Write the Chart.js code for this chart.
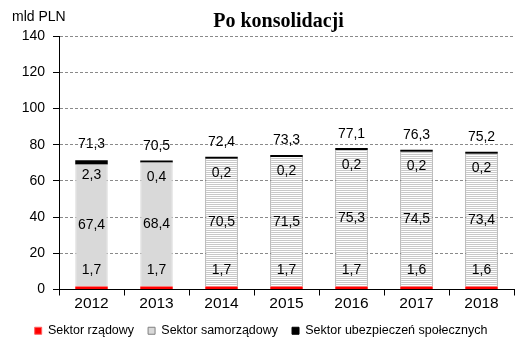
<!DOCTYPE html>
<html>
<head>
<meta charset="utf-8">
<script src="https://cdn.jsdelivr.net/npm/chart.js@4/dist/chart.umd.min.js"></script>
<style>
  body { margin: 0; background: #fff; }
  #wrap { width: 520px; height: 347px; }
</style>
</head>
<body>
<div id="wrap"><canvas id="chart" width="520" height="347"></canvas></div>
<script>
var years = ['2012', '2013', '2014', '2015', '2016', '2017', '2018'];
var rzadowy = [1.7, 1.7, 1.7, 1.7, 1.7, 1.6, 1.6];
var samorzadowy = [67.4, 68.4, 70.5, 71.5, 75.3, 74.5, 73.4];
var ubezpieczen = [2.3, 0.4, 0.2, 0.2, 0.2, 0.2, 0.2];
var totals = [71.3, 70.5, 72.4, 73.3, 77.1, 76.3, 75.2];
var yTicks = [0, 20, 40, 60, 80, 100, 120, 140];

// wzor w poziome paski (od 2014)
function stripes(){
  var c = document.createElement('canvas');
  c.width = 4; c.height = 2;
  var g = c.getContext('2d');
  g.fillStyle = '#ffffff';
  g.fillRect(0, 0, 4, 2);
  g.fillStyle = '#c8c8c8';
  g.fillRect(0, 0, 4, 1);
  return g.createPattern(c, 'repeat');
}
var ctx = document.getElementById('chart').getContext('2d');
var pat = stripes();
var greyFill = years.map(function(y, i){ return i < 2 ? '#d9d9d9' : pat; });
var greyBorder = years.map(function(y, i){ return i < 2 ? '#d9d9d9' : '#8c8c8c'; });

function fmt(v){ return v.toFixed(1).replace('.', ','); }

// etykiety wartosci, tytul i jednostka
var labelsPlugin = {
  id: 'labels',
  afterDatasetsDraw: function(chart){
    var c = chart.ctx;
    var y = chart.scales.y, x = chart.scales.x;
    c.save();
    c.fillStyle = '#000';
    c.textAlign = 'center';
    c.textBaseline = 'middle';
    c.font = '14px "Liberation Sans", Arial, sans-serif';
    years.forEach(function(yr, i){
      var cx = x.getPixelForValue(i);
      var base = y.getPixelForValue(0);
      var top = y.getPixelForValue(rzadowy[i] + samorzadowy[i] + ubezpieczen[i]);
      var mid = y.getPixelForValue(rzadowy[i] + samorzadowy[i] / 2);
      c.fillText(fmt(rzadowy[i]), cx, base - 19);
      c.fillText(fmt(samorzadowy[i]), cx, mid);
      c.fillText(fmt(ubezpieczen[i]), cx, top + 15);
      c.fillText(fmt(totals[i]), cx, top - 16);
    });
    c.font = 'bold 20px "Liberation Serif", "Times New Roman", serif';
    c.fillText('Po konsolidacji', (chart.chartArea.left + chart.chartArea.right) / 2 - 8, 22);
    c.textAlign = 'left';
    c.font = '14px "Liberation Sans", Arial, sans-serif';
    c.fillText('mld PLN', 12, 17);
    c.restore();
  }
};

new Chart(ctx, {
  type: 'bar',
  data: {
    labels: years,
    datasets: [
      {
        label: 'Sektor rządowy',
        data: rzadowy,
        backgroundColor: '#ff0000',
        borderWidth: 0,
        barPercentage: 0.5,
        categoryPercentage: 1
      },
      {
        label: 'Sektor samorządowy',
        data: samorzadowy,
        backgroundColor: greyFill,
        borderColor: greyBorder,
        borderWidth: {left: 1, right: 1, top: 0, bottom: 0},
        barPercentage: 0.5,
        categoryPercentage: 1
      },
      {
        label: 'Sektor ubezpieczeń społecznych',
        data: ubezpieczen,
        backgroundColor: '#000000',
        borderWidth: 0,
        minBarLength: 2,
        barPercentage: 0.5,
        categoryPercentage: 1
      }
    ]
  },
  options: {
    responsive: false,
    animation: false,
    layout: { padding: { left: 8, right: 6, top: 36, bottom: 0 } },
    scales: {
      x: {
        stacked: true,
        offset: true,
        grid: { display: true, drawOnChartArea: false, offset: true, tickLength: 6, tickColor: '#000' },
        border: { color: '#000', width: 1 },
        ticks: { color: '#000', font: { family: '"Liberation Sans", Arial, sans-serif', size: 15.5 }, padding: -1 },
        afterFit: function(s){ s.height = 21; }
      },
      y: {
        stacked: true,
        min: 0,
        max: 140,
        afterBuildTicks: function(s){ s.ticks = yTicks.map(function(v){ return {value: v}; }); },
        grid: { color: '#8a8a8a', tickColor: '#000', tickLength: 6 },
        border: { color: '#000', width: 1, dash: [3, 2] },
        ticks: { color: '#000', font: { family: '"Liberation Sans", Arial, sans-serif', size: 14 }, padding: 8 },
        afterFit: function(s){ s.width = 51; }
      }
    },
    plugins: {
      title: { display: false },
      tooltip: { enabled: false },
      legend: {
        position: 'bottom',
        labels: {
          color: '#000',
          boxWidth: 7,
          boxHeight: 7,
          padding: 14,
          font: { family: '"Liberation Sans", Arial, sans-serif', size: 12.5 },
          generateLabels: function(chart){
            var fills = ['#ff0000', '#d9d9d9', '#000000'];
            var strokes = ['#ff6060', '#808080', '#000000'];
            return chart.data.datasets.map(function(ds, i){
              return { text: ds.label, fillStyle: fills[i], strokeStyle: strokes[i], lineWidth: 1, datasetIndex: i, fontColor: '#000' };
            });
          }
        }
      }
    }
  },
  plugins: [labelsPlugin]
});
</script>
</body>
</html>
